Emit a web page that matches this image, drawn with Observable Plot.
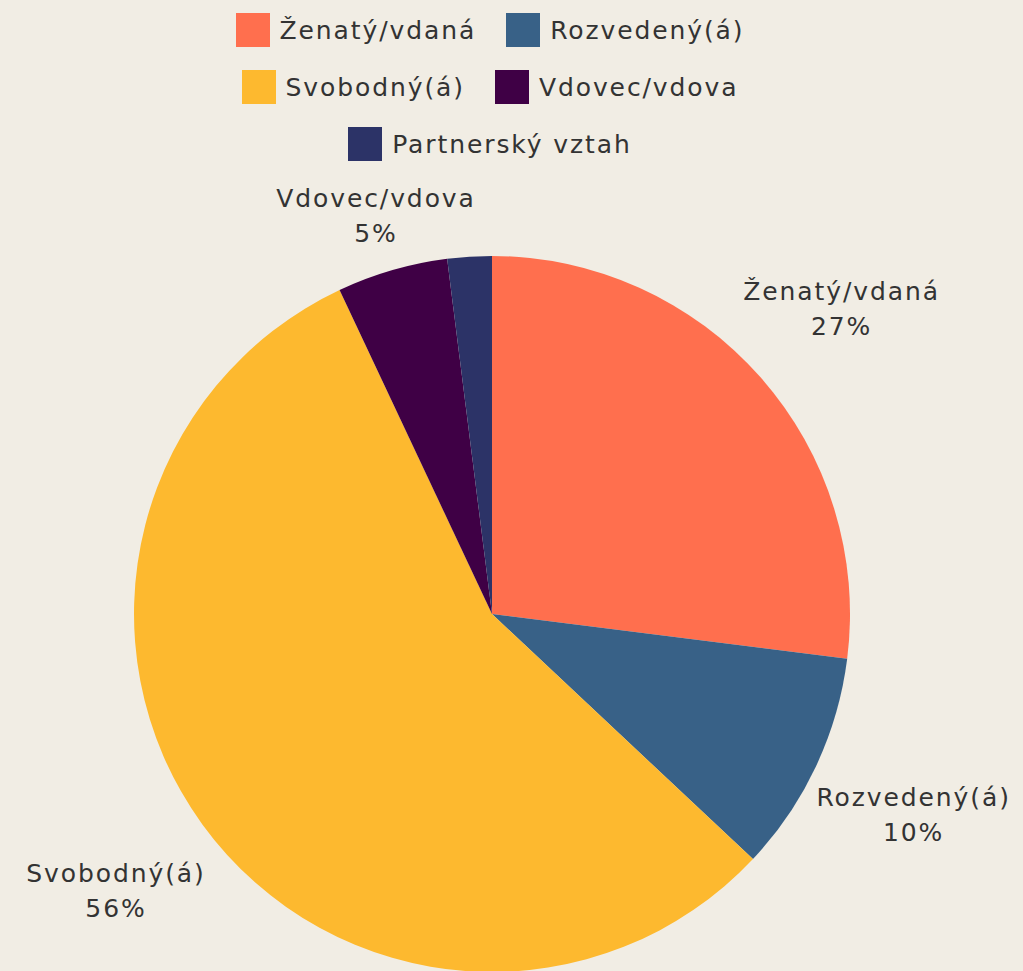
<!DOCTYPE html>
<html>
<head>
<meta charset="utf-8">
<script src="https://cdn.jsdelivr.net/npm/d3@7"></script>
<script src="https://cdn.jsdelivr.net/npm/@observablehq/plot@0.6"></script>
<style>
  html, body { margin: 0; padding: 0; background: #F1EDE4; }
  body { width: 1023px; height: 971px; overflow: hidden; font-family: "DejaVu Sans", sans-serif; color: #333; }
  #legend { position: absolute; left: 180px; top: 13px; width: 620px; display: flex; flex-wrap: wrap; justify-content: center; column-gap: 30px; row-gap: 23px; }
  .item { display: flex; align-items: center; height: 34px; font-size: 25px; letter-spacing: 1.9px; }
  .sw { width: 34px; height: 34px; margin-right: 10px; }
  #chart { position: absolute; left: 0; top: 175px; }
</style>
</head>
<body>
<div id="legend"></div>
<div id="chart"></div>
<script>
const categories = ["Ženatý/vdaná", "Rozvedený(á)", "Svobodný(á)", "Vdovec/vdova", "Partnerský vztah"];
const values = [27, 10, 56, 5, 2];
const colors = ["#FF6F4E", "#386187", "#FDB92F", "#3F0045", "#2C3367"];
const showLabel = [true, true, true, true, false];

const data = categories.map((c, i) => ({category: c, value: values[i], color: colors[i], show: showLabel[i]}));
const total = d3.sum(values);
const arcs = d3.pie().sort(null).value(d => d.value)(data);

// label positions in data units (unit circle = pie radius)
const labels = arcs.filter(a => a.data.show).map(a => {
  const mid = (a.startAngle + a.endAngle) / 2;
  let r = 1.3;
  const c = Math.cos(mid);
  if (c > 0) r = Math.min(r, 1.12 / c);
  return {
    x: r * Math.sin(mid),
    y: r * Math.cos(mid),
    text: a.data.category + "\n" + Math.round(a.data.value / total * 100) + "%"
  };
});

// legend
const legend = document.getElementById("legend");
data.forEach(d => {
  const it = document.createElement("div");
  it.className = "item";
  const sw = document.createElement("div");
  sw.className = "sw";
  sw.style.background = d.color;
  const t = document.createElement("span");
  t.textContent = d.category;
  it.appendChild(sw); it.appendChild(t);
  legend.appendChild(it);
});

const W = 1023, H = 796, cx = 492, cy = 439, R = 358;

function pieMark(index, scales) {
  const x = scales.x, y = scales.y;
  const rad = x(1) - x(0);
  const g = d3.create("svg:g").attr("transform", `translate(${x(0)},${y(0)})`);
  const arcGen = d3.arc().innerRadius(0).outerRadius(rad);
  g.selectAll("path").data(arcs).join("path")
    .attr("d", arcGen)
    .attr("fill", a => a.data.color);
  return g.node();
}

const plot = Plot.plot({
  width: W, height: H,
  margin: 0,
  style: { background: "transparent", fontFamily: "DejaVu Sans, sans-serif", letterSpacing: "1.9px" },
  x: { domain: [-1, 1], range: [cx - R, cx + R], axis: null },
  y: { domain: [-1, 1], range: [cy + R, cy - R], axis: null },
  marks: [
    pieMark,
    Plot.text(labels, { x: "x", y: "y", text: "text", fontSize: 25, fill: "#333", lineHeight: 1.4, textAnchor: "middle" })
  ]
});
document.getElementById("chart").appendChild(plot);
</script>
</body>
</html>
